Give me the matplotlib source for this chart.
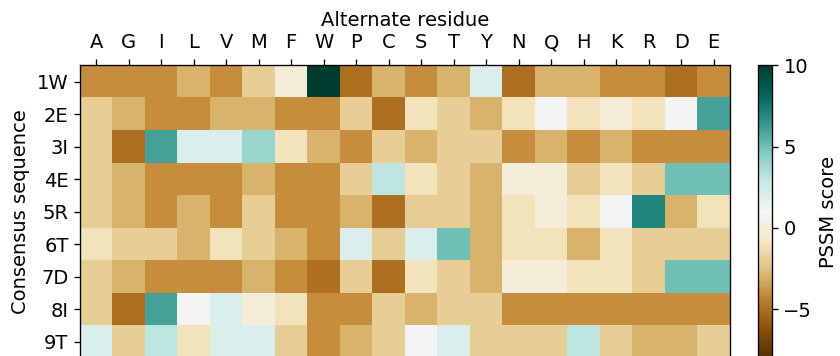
import numpy as np
import matplotlib
matplotlib.use("Agg")
import matplotlib.pyplot as plt

residues = ["A", "G", "I", "L", "V", "M", "F", "W", "P", "C",
            "S", "T", "Y", "N", "Q", "H", "K", "R", "D", "E"]
consensus = ["1W", "2E", "3I", "4E", "5R", "6T", "7D", "8I", "9T"]

# PSSM score of each alternate residue at each consensus position
scores = [
    [-4, -4, -4, -3, -4, -2, 0, 10, -5, -3, -4, -3, 2, -5, -3, -3, -4, -4, -5, -4],
    [-2, -3, -4, -4, -3, -3, -4, -4, -2, -5, -1, -2, -3, -1, 1, -1, 0, -1, 1, 6],
    [-2, -5, 6, 2, 2, 4, -1, -3, -4, -2, -3, -2, -2, -4, -3, -4, -3, -4, -4, -4],
    [-2, -3, -4, -4, -4, -3, -4, -4, -2, 3, -1, -2, -3, 0, 0, -2, -1, -2, 5, 5],
    [-2, -3, -4, -3, -4, -2, -4, -4, -3, -5, -2, -2, -3, -1, 0, -1, 1, 7, -3, -1],
    [-1, -2, -2, -3, -1, -2, -3, -4, 2, -2, 2, 5, -3, -1, -1, -3, -1, -2, -2, -2],
    [-2, -3, -4, -4, -4, -3, -4, -5, -2, -5, -1, -2, -3, 0, 0, -1, -1, -2, 5, 5],
    [-2, -5, 6, 1, 2, 0, -1, -4, -4, -2, -3, -2, -2, -4, -4, -4, -4, -4, -4, -4],
    [2, -2, 3, -1, 2, 2, -2, -4, -3, -2, 1, 2, -2, -2, -2, 3, -2, -3, -3, -2],
]

plt.rcParams["font.family"] = "DejaVu Sans"
plt.rcParams["font.size"] = 14
plt.rcParams["axes.linewidth"] = 0.95
plt.rcParams["axes.labelpad"] = 4.7
for a in ("xtick", "ytick"):
    plt.rcParams[a + ".major.size"] = 4.1
    plt.rcParams[a + ".major.pad"] = 4.1
    plt.rcParams[a + ".major.width"] = 0.95
plt.rcParams["xtick.major.pad"] = 5.2

fig = plt.figure(figsize=(8.4, 3.56), dpi=100)
ax = fig.add_axes([0.0952, -0.005, 0.7738, 0.8216])
cax = fig.add_axes([0.9024, -0.005, 0.0167, 0.8216])

im = ax.imshow(np.array(scores), cmap="BrBG", vmin=-8, vmax=10, aspect="auto")

ax.set_xticks(np.arange(len(residues)))
ax.set_xticklabels(residues)
ax.set_yticks(np.arange(len(consensus)))
ax.set_yticklabels(consensus)
ax.xaxis.tick_top()
ax.xaxis.set_label_position("top")
ax.set_xlabel("Alternate residue", labelpad=5.5)
ax.set_ylabel("Consensus sequence")

cb = fig.colorbar(im, cax=cax)
cb.set_ticks([-5, 0, 5, 10])
cb.set_label("PSSM score")

fig.savefig("out.png", dpi=100)
